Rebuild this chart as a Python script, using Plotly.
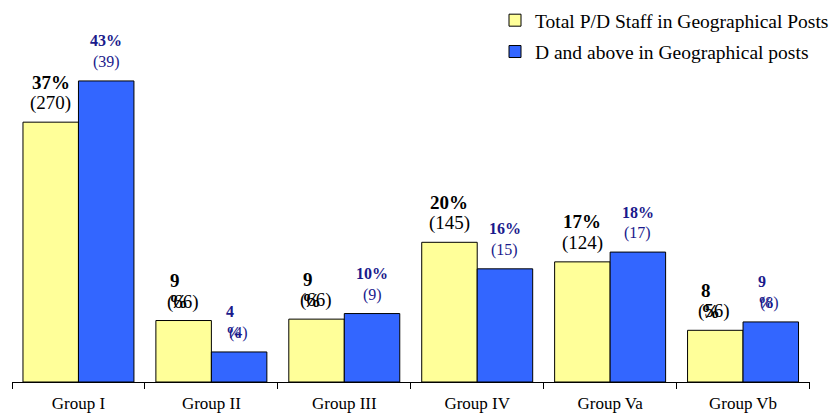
import plotly.graph_objects as go

categories = ["Group I", "Group II", "Group III", "Group IV", "Group Va", "Group Vb"]
# bar heights (share in %)
share_total = [37.2, 8.8, 9.0, 20.0, 17.2, 7.4]
share_d = [43.1, 4.3, 9.8, 16.2, 18.6, 8.6]
# printed labels
pct_total = [37, 9, 9, 20, 17, 8]
n_total = [270, 66, 66, 145, 124, 56]
pct_d = [43, 4, 10, 16, 18, 9]
n_d = [39, 4, 9, 15, 17, 8]

FONT = "Liberation Serif, Times New Roman, serif"
YELLOW = "#FFFF99"
BLUE = "#3366FF"
NAVY = "#1A1A8C"
BARGAP = 0.165
PAGE = 8                      # default body margin of the html page
W, H = 837 - PAGE, 414 - PAGE  # figure size so it fits the window
PX_PER_UNIT = 6.985
BASE = 382 - PAGE              # baseline in figure pixels

fig = go.Figure()
fig.add_trace(go.Bar(name="Total P/D Staff in Geographical Posts", x=categories, y=share_total,
                     legendgroup="a",
                     marker=dict(color=YELLOW, line=dict(color="black", width=1))))
fig.add_trace(go.Bar(name="D and above in Geographical posts", x=categories, y=share_d,
                     legendgroup="b",
                     marker=dict(color=BLUE, line=dict(color="black", width=1))))

off = (1 - BARGAP) / 4
annotations = []


def add_labels(series_share, series_pct, series_n, sign, color, size):
    for i, (h, p, n) in enumerate(zip(series_share, series_pct, series_n)):
        x = i + sign * off
        f = dict(family=FONT, size=size, color=color)
        if p >= 10:
            annotations.append(dict(x=x, y=h, xref="x", yref="y", text=f"<b>{p}%</b>",
                                    showarrow=False, yanchor="middle", yshift=40, font=f))
            annotations.append(dict(x=x, y=h, xref="x", yref="y", text=f"({n})",
                                    showarrow=False, yanchor="middle", yshift=19, font=f))
        else:
            annotations.append(dict(x=x, y=h, xref="x", yref="y", text=f"<b>{p}</b>",
                                    showarrow=False, yanchor="middle", yshift=40, xshift=-9, font=f))
            annotations.append(dict(x=x, y=h, xref="x", yref="y", text=f"({n})",
                                    showarrow=False, yanchor="middle", yshift=19, xshift=-1, font=f))
            annotations.append(dict(x=x, y=h, xref="x", yref="y", text="<b>%</b>",
                                    showarrow=False, yanchor="middle", yshift=19, xshift=-5, font=f))


add_labels(share_total, pct_total, n_total, -1, "black", 19)
add_labels(share_d, pct_d, n_d, 1, NAVY, 16)

fig.update_layout(
    width=W, height=H,
    margin=dict(l=0, r=0, t=0, b=0, autoexpand=False),
    paper_bgcolor="white", plot_bgcolor="white",
    barmode="group", bargap=BARGAP, bargroupgap=0,
    font=dict(family=FONT, color="black"),
    showlegend=True,
    legend=dict(x=(535 - PAGE - 40) / W, y=1 + 7 / H, xanchor="left", yanchor="top",
                font=dict(family=FONT, size=19.5, color="black"),
                bgcolor="rgba(0,0,0,0)", traceorder="grouped", tracegroupgap=3),
    annotations=annotations,
)
fig.update_xaxes(domain=[(12 - PAGE) / W, (809.5 - PAGE) / W], showline=True,
                 linecolor="black", linewidth=1,
                 ticks="outside", tickson="boundaries", ticklen=6, tickcolor="black",
                 ticklabelstandoff=6,
                 tickfont=dict(family=FONT, size=17, color="black"), showgrid=False)
fig.update_yaxes(domain=[(H - BASE) / H, 1], range=[0, BASE / PX_PER_UNIT],
                 visible=False, showgrid=False)

fig.write_html("out.html")
